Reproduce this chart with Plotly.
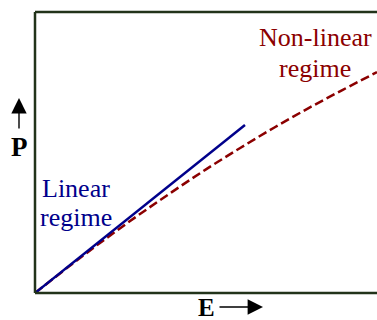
import plotly.graph_objects as go

# Field strength E and polarisation P (normalised units)
E_linear = [0.0, 0.614]
P_linear = [0.0, 0.598]

E_nonlinear = [0.0, 0.1, 0.2, 0.3, 0.4, 0.5, 0.6, 0.7, 0.8, 0.9, 1.0]
P_nonlinear = [0.0, 0.095, 0.187, 0.275, 0.359, 0.440, 0.516, 0.589, 0.658, 0.723, 0.786]

W, H = 377, 320
L, R, T, B = 35, 0, 12, 27
pw, ph = W - L - R, H - T - B


def px(x):
    return (x - L) / pw


def py(y):
    return (H - B - y) / ph


SERIF = "Liberation Serif"
FRAME = "#22331a"
BLUE = "#00008b"
RED = "#8b0000"

fig = go.Figure()
fig.add_trace(go.Scatter(x=E_nonlinear, y=P_nonlinear, mode="lines",
                         line=dict(color=RED, width=2.5, dash="9px,4px", shape="spline"),
                         hoverinfo="skip"))
fig.add_trace(go.Scatter(x=E_linear, y=P_linear, mode="lines",
                         line=dict(color=BLUE, width=2.5),
                         hoverinfo="skip"))

# frame: left, top and bottom sides
for x0, y0, x1, y1 in [(0, 0, 0, 1), (0, 1, 1, 1), (0, 0, 1, 0)]:
    fig.add_shape(type="line", xref="paper", yref="paper", x0=x0, y0=y0, x1=x1, y1=y1,
                  line=dict(color=FRAME, width=2.5), layer="above")


def label(x, y, text, size, color):
    fig.add_annotation(xref="paper", yref="paper", x=px(x), y=py(y), text=text,
                       showarrow=False, xanchor="center", yanchor="middle",
                       align="center", font=dict(family=SERIF, size=size, color=color))


def arrow(x, y, ax, ay):
    fig.add_annotation(xref="paper", yref="paper", x=px(x), y=py(y), ax=ax, ay=ay,
                       text="", showarrow=True, arrowhead=2, arrowsize=2.2,
                       arrowwidth=1.4, arrowcolor="black")


# regime labels, one annotation per line for tighter leading
label(76, 188, "Linear", 26, BLUE)
label(76, 217, "regime", 26, BLUE)
label(315, 37, "Non-linear", 26, RED)
label(315, 68, "regime", 26, RED)

# axis labels with direction arrows
label(19, 147, "<b>P</b>", 27, "black")
arrow(19, 98, 0, 32)
label(206, 307, "<b>E</b>", 25, "black")
arrow(263, 307, -45, 0)

fig.update_xaxes(range=[0, 1], visible=False)
fig.update_yaxes(range=[0, 1], visible=False)
fig.update_layout(width=W, height=H, margin=dict(l=L, r=R, t=T, b=B),
                  paper_bgcolor="white", plot_bgcolor="white", showlegend=False)

fig.write_html("out.html")
